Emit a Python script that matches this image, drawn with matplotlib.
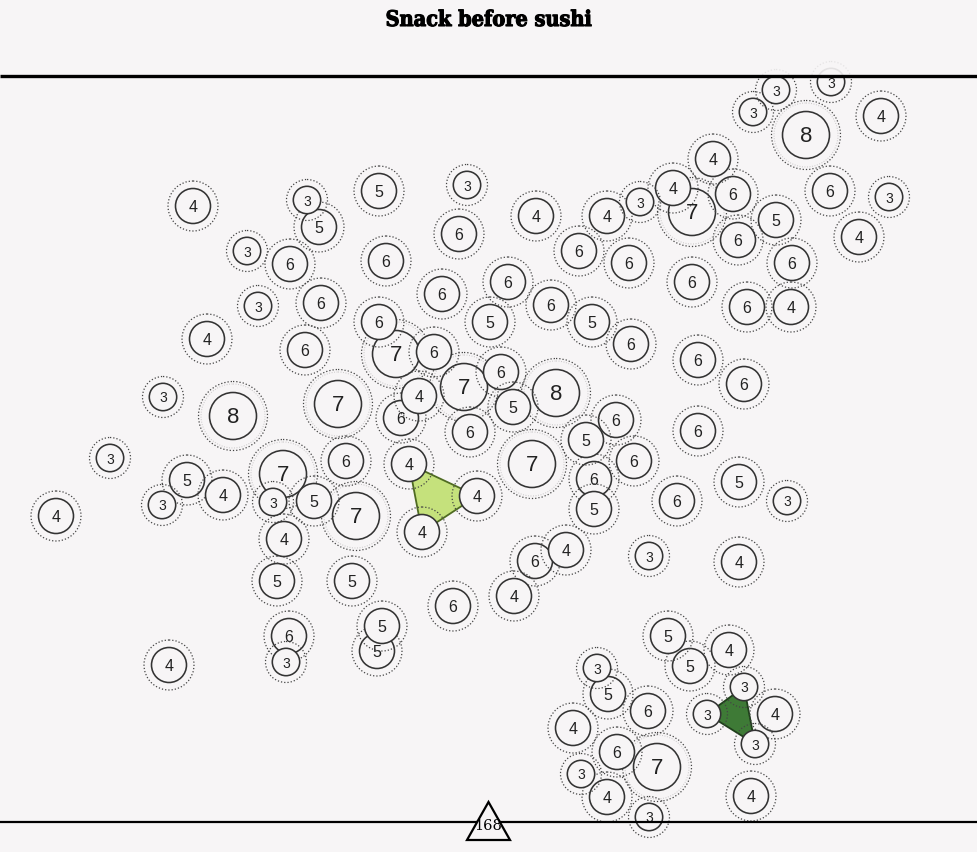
import numpy as np
import matplotlib.pyplot as plt
import matplotlib.patheffects as pe
from matplotlib.patches import Circle, Polygon, Rectangle

# circle centres (pixel coords of the original view) and the number in each
xs = [776, 831, 753, 806, 881, 713, 673, 640, 692, 733, 830, 889, 776, 738, 859, 792, 692, 747, 791,
      193, 307, 319, 379, 467, 459, 536, 607, 579, 629, 247, 290, 386, 508, 442, 551, 592, 258, 321,
      490, 631, 207, 305, 379, 396, 434, 698, 744, 163, 233, 338, 419, 464, 501, 556, 401, 513, 470,
      616, 586, 698, 110, 283, 346, 409, 532, 634, 187, 223, 162, 273, 314, 356, 477, 594, 594, 677,
      739, 787, 56, 422, 284, 566, 535, 649, 739, 277, 352, 514, 453, 289, 382, 377, 286, 169,
      668, 729, 690, 597, 608, 744, 648, 707, 775, 573, 755, 617, 657, 581, 607, 751, 649]
ys = [91, 83, 113, 136, 117, 160, 189, 203, 213, 195, 192, 198, 221, 241, 238, 264, 283, 308, 308,
      207, 201, 228, 192, 186, 235, 217, 217, 252, 264, 252, 265, 262, 283, 295, 306, 323, 307, 304,
      323, 345, 340, 351, 323, 355, 353, 361, 385, 398, 417, 405, 397, 388, 373, 394, 419, 408, 433,
      421, 441, 432, 459, 475, 462, 465, 465, 462, 481, 496, 506, 503, 502, 517, 497, 480, 510, 502,
      483, 502, 517, 533, 540, 551, 562, 557, 563, 582, 582, 597, 607, 637, 627, 652, 663, 666,
      637, 651, 667, 669, 695, 688, 712, 715, 715, 729, 745, 753, 768, 775, 798, 797, 818]
vals = [3, 3, 3, 8, 4, 4, 4, 3, 7, 6, 6, 3, 5, 6, 4, 6, 6, 6, 4,
        4, 3, 5, 5, 3, 6, 4, 4, 6, 6, 3, 6, 6, 6, 6, 6, 5, 3, 6,
        5, 6, 4, 6, 6, 7, 6, 6, 6, 3, 8, 7, 4, 7, 6, 8, 6, 5, 6,
        6, 5, 6, 3, 7, 6, 4, 7, 6, 5, 4, 3, 3, 5, 7, 4, 6, 5, 6,
        5, 3, 4, 4, 4, 4, 6, 3, 4, 5, 5, 4, 6, 6, 5, 5, 3, 4,
        5, 4, 5, 3, 5, 3, 6, 3, 4, 4, 3, 6, 7, 3, 4, 4, 3]

# highlighted groups (indices into the lists above)
light_group = [63, 72, 79]
dark_group = [99, 101, 104]

marker_label = "168"
title = "Snack before sushi"

BG = "#f7f5f6"
# (solid radius, dotted radius, font size) per value
SIZES = {3: (13.7, 20.5, 10), 4: (17.5, 25, 11.5), 5: (17.5, 25, 11.5), 6: (17.5, 25, 11.5),
         7: (23.5, 34.5, 16), 8: (23.5, 34.5, 16)}

W, H = 977, 853
fig = plt.figure(figsize=(W / 100, H / 100), dpi=100, facecolor=BG)
ax = fig.add_axes([0, 0, 1, 1])
ax.set_xlim(0, W)
ax.set_ylim(H, 0)
ax.set_facecolor(BG)
ax.axis("off")

for grp, fc, ec in [(light_group, "#c5e17c", "#4f6b22"), (dark_group, "#3e7a36", "#1f3f1b")]:
    pts = [(xs[i], ys[i]) for i in grp]
    ax.add_patch(Polygon(pts, closed=True, facecolor=fc, edgecolor=ec, lw=1.3, zorder=1))

# bigger circles first, then bottom to top, so small / upper ones sit on top
order = sorted(range(len(xs)), key=lambda i: (-vals[i], -ys[i]))
z = 2
for i in order:
    r_in, r_out, fs = SIZES[vals[i]]
    if vals[i] >= 7:
        # faint halo seen around the big ones
        ax.add_patch(Circle((xs[i], ys[i]), r_out - 2.5, facecolor="none", edgecolor="#c8c6c7",
                            lw=0.7, linestyle=(0, (1, 1.6)), zorder=z))
    ax.add_patch(Circle((xs[i], ys[i]), r_out, facecolor="none", edgecolor="#444444",
                        lw=0.9, linestyle=(0, (1, 1.6)), zorder=z))
    ax.add_patch(Circle((xs[i], ys[i]), r_in, facecolor=BG, edgecolor="#333333",
                        lw=1.15, zorder=z + 0.1))
    ax.text(xs[i], ys[i] + 0.5, str(vals[i]), ha="center", va="center", fontsize=fs,
            family="Liberation Sans", color="#222222", zorder=z + 0.2)
    z += 1

# header band hides whatever spills over the top rule
ax.add_patch(Rectangle((0, 0), W, 77, facecolor=BG, alpha=0.9, edgecolor="none", zorder=z + 1))
ax.plot([0, W], [77, 77], color="black", lw=2.4, zorder=z + 2, solid_capstyle="butt")
ax.plot([0, W], [823, 823], color="black", lw=1.6, zorder=z + 2, solid_capstyle="butt")

ax.add_patch(Polygon([(467, 841), (510, 841), (488.5, 803)], closed=True, facecolor=BG,
                     edgecolor="black", lw=1.6, zorder=z + 3))
ax.text(488.5, 826, marker_label, ha="center", va="center", fontsize=10.5,
        family="DejaVu Serif", color="black", zorder=z + 4)

ax.text(W / 2, 21, title, ha="center", va="center", fontsize=15.5, fontweight="heavy",
        family="DejaVu Serif", fontstretch="condensed", color="black", zorder=z + 4,
        path_effects=[pe.withStroke(linewidth=0.8, foreground="black")])

fig.savefig("out.png", dpi=100, facecolor=BG)
